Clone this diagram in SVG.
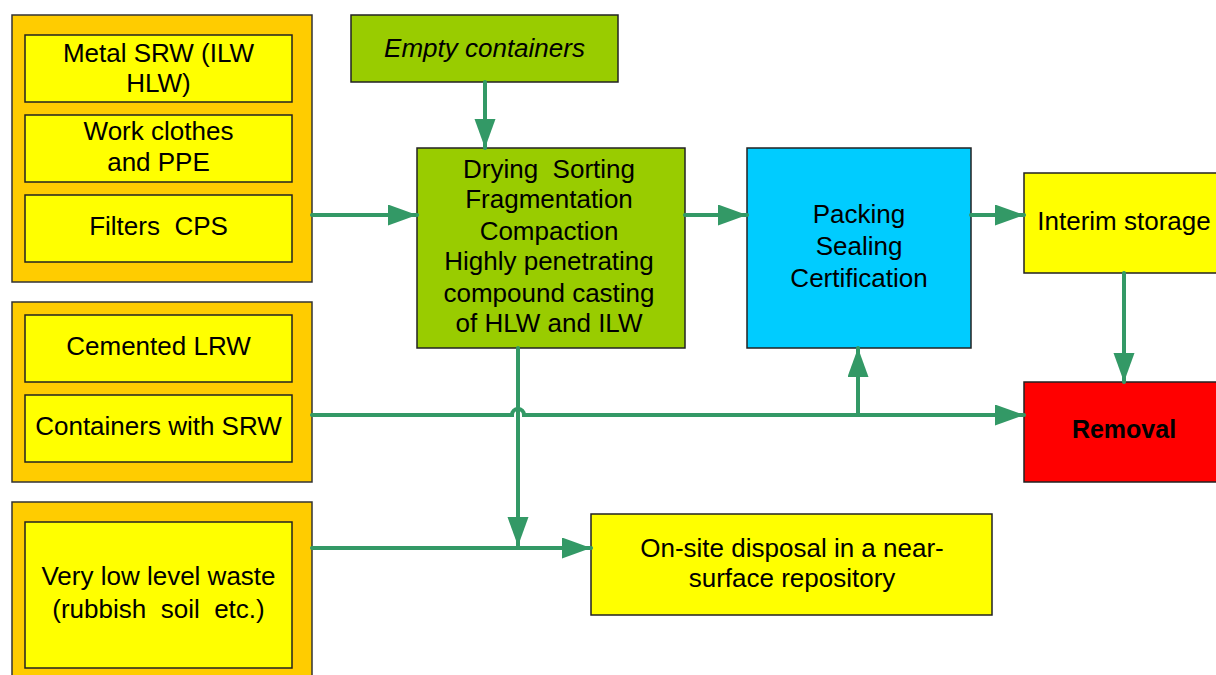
<svg xmlns="http://www.w3.org/2000/svg" width="1216" height="675" viewBox="0 0 1216 675">
<style>
.outer{fill:#FFCC00;stroke:#333;stroke-width:1.5}
.yel{fill:#FFFF00;stroke:#222;stroke-width:1.5}
.grn{fill:#99CC00;stroke:#222;stroke-width:1.5}
.blu{fill:#00CCFF;stroke:#222;stroke-width:1.5}
.red{fill:#FF0000;stroke:#222;stroke-width:1.5}
text{font-family:"Liberation Sans",Arial,sans-serif;font-size:26px;fill:#000;text-anchor:middle;white-space:pre}
.it{font-style:italic}
.b{font-weight:bold;font-size:25px}
.con{fill:none;stroke:#339966;stroke-width:4;stroke-linecap:round}
</style>
<defs>
<marker id="ah" markerUnits="userSpaceOnUse" markerWidth="30" markerHeight="22" refX="29" refY="10.5" orient="auto">
<path d="M0,0 L29,10.5 L0,21 z" fill="#339966"/>
</marker>
</defs>
<rect width="1216" height="675" fill="#fff"/>
<g id="group1">
<rect class="outer" x="12" y="15" width="300" height="267"/>
<g id="metal"><rect class="yel" x="25" y="35" width="267" height="67"/>
<text x="158.5" y="62">Metal SRW (ILW</text><text x="158.5" y="92">HLW)</text></g>
<g id="clothes"><rect class="yel" x="25" y="115" width="267" height="67"/>
<text x="158.5" y="140">Work clothes</text><text x="158.5" y="171">and PPE</text></g>
<g id="filters"><rect class="yel" x="25" y="195" width="267" height="67"/>
<text x="158.5" y="235" xml:space="preserve">Filters  CPS</text></g>
</g>
<g id="group2">
<rect class="outer" x="12" y="302" width="300" height="180"/>
<g id="cemented"><rect class="yel" x="25" y="315" width="267" height="67"/>
<text x="158.5" y="355">Cemented LRW</text></g>
<g id="containers"><rect class="yel" x="25" y="395" width="267" height="67"/>
<text x="158.5" y="435">Containers with SRW</text></g>
</g>
<g id="group3">
<rect class="outer" x="12" y="502" width="300" height="190"/>
<g id="vllw"><rect class="yel" x="25" y="522" width="267" height="146"/>
<text x="158.5" y="585">Very low level waste</text><text x="158.5" y="618" xml:space="preserve">(rubbish  soil  etc.)</text></g>
</g>
<g id="empty">
<rect class="grn" x="351" y="15" width="267" height="67"/>
<text class="it" x="484.5" y="57">Empty containers</text>
</g>
<g id="drying">
<rect class="grn" x="417" y="148" width="268" height="200"/>
<text x="549" y="178" xml:space="preserve">Drying  Sorting</text>
<text x="549" y="208">Fragmentation</text>
<text x="549" y="240">Compaction</text>
<text x="549" y="270">Highly penetrating</text>
<text x="549" y="302">compound casting</text>
<text x="549" y="332">of HLW and ILW</text>
</g>
<g id="packing">
<rect class="blu" x="747" y="148" width="224" height="200"/>
<text x="859" y="223">Packing</text>
<text x="859" y="255">Sealing</text>
<text x="859" y="287">Certification</text>
</g>
<g id="interim">
<rect class="yel" x="1024" y="173" width="200" height="100"/>
<text x="1124" y="230">Interim storage</text>
</g>
<g id="removal">
<rect class="red" x="1024" y="382" width="200" height="100"/>
<text class="b" x="1124" y="438">Removal</text>
</g>
<g id="onsite">
<rect class="yel" x="591" y="514" width="401" height="101"/>
<text x="792" y="557">On-site disposal in a near-</text>
<text x="792" y="587">surface repository</text>
</g>
<g id="connectors">
<path class="con" d="M312,215 H417" marker-end="url(#ah)"/>
<path class="con" d="M485,82 V148" marker-end="url(#ah)"/>
<path class="con" d="M685,215 H747" marker-end="url(#ah)"/>
<path class="con" d="M971,215 H1024" marker-end="url(#ah)"/>
<path class="con" d="M1124,273 V382" marker-end="url(#ah)"/>
<path class="con" d="M312,415 H512 A6,6 0 0 1 524,415 H1024" marker-end="url(#ah)"/>
<path class="con" d="M858,415 V348" marker-end="url(#ah)"/>
<path class="con" d="M518,348 V546" marker-end="url(#ah)"/>
<path class="con" d="M312,548 H591" marker-end="url(#ah)"/>
</g>
</svg>
